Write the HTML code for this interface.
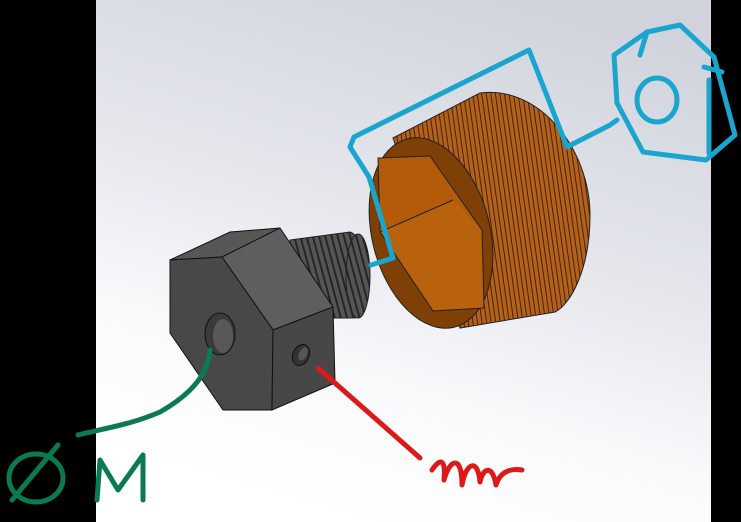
<!DOCTYPE html>
<html><head><style>
html,body{margin:0;padding:0;background:#000;}
svg{display:block;}
</style></head><body>
<svg width="741" height="522" viewBox="0 0 741 522" xmlns="http://www.w3.org/2000/svg">
<defs>
<linearGradient id="bg" x1="0.75" y1="0" x2="0.4" y2="1">
<stop offset="0" stop-color="#d0d3dc"/>
<stop offset="0.45" stop-color="#e5e7ed"/>
<stop offset="0.75" stop-color="#fafafc"/>
<stop offset="1" stop-color="#ffffff"/>
</linearGradient>
<pattern id="knurl" width="4.5" height="10" patternUnits="userSpaceOnUse" patternTransform="rotate(-8)">
<rect width="4.5" height="10" fill="#b3621c"/>
<rect width="1" height="10" fill="#4a2204"/>
</pattern>
<pattern id="thr" width="6" height="8" patternUnits="userSpaceOnUse" patternTransform="rotate(-15)">
<rect width="6" height="8" fill="#555"/>
<rect width="2" height="8" fill="#262626"/>
</pattern>
</defs>
<rect width="741" height="522" fill="#000"/>
<rect x="96" y="0" width="615" height="522" fill="url(#bg)"/>

<!-- knob body -->
<path d="M393,138 L480,93 C540,85 590,150 590,215 C590,270 570,305 555,312 L460,328 Z" fill="url(#knurl)" stroke="#222" stroke-width="1"/>
<!-- rim -->
<ellipse cx="431" cy="233" rx="59" ry="97" transform="rotate(-14 431 233)" fill="#7f4007" stroke="#222" stroke-width="1"/>
<!-- inner hex -->
<polygon points="378,158 430,156 482,230 484,308 433,311 380,232" fill="#b35b08"/>
<polygon points="380,232 453,200 482,230 484,308 433,311" fill="#b8620e"/>
<polygon points="378,158 430,156 482,230 484,308 433,311 380,232" fill="none" stroke="#222" stroke-width="1"/>
<line x1="380" y1="232" x2="453" y2="200" stroke="#222" stroke-width="1"/>

<!-- thread -->
<path d="M290,240 L350,232 C372,240 375,310 355,318 L300,318 Z" fill="url(#thr)" stroke="#222" stroke-width="1"/>
<ellipse cx="358" cy="276" rx="12" ry="42" fill="url(#thr)" stroke="#222" stroke-width="1"/>

<!-- nut -->
<polygon points="170,260 230,232 280,228 222,257" fill="#575757" stroke="#111" stroke-width="1"/>
<polygon points="222,257 280,228 333,307 273,330" fill="#5e5e5e" stroke="#111" stroke-width="1"/>
<polygon points="170,260 222,257 273,330 272,410 223,410 170,333" fill="#484848" stroke="#111" stroke-width="1"/>
<polygon points="273,330 333,307 335,383 272,410" fill="#474747" stroke="#111" stroke-width="1"/>
<ellipse cx="220" cy="334" rx="15" ry="21" fill="#3a3a3a" stroke="#111" stroke-width="1"/>
<ellipse cx="223" cy="336" rx="10" ry="17" fill="#585858"/>
<ellipse cx="301" cy="355" rx="8" ry="11" transform="rotate(25 301 355)" fill="#333" stroke="#111" stroke-width="1"/>
<ellipse cx="303" cy="354" rx="4" ry="7" transform="rotate(25 303 354)" fill="#555"/>

<!-- blue annotation -->
<g fill="none" stroke="#1aa5cf" stroke-width="5" stroke-linecap="round" stroke-linejoin="round">
<path d="M371,265 L393,258 L369,177 L350,147 L354,137 L529,50 L567,147 L610,125 L617,120"/>
<path d="M617,103 L614,55 L647,32 L680,25 L714,57 L735,135 L706,160 L643,152 L617,103"/>
<path d="M647,32 L640,55"/>
<ellipse cx="657" cy="100" rx="20" ry="22"/>
<path d="M704,67 L722,72"/>
<path d="M709,80 L709,153"/>
</g>

<!-- green annotation -->
<g fill="none" stroke="#0b7a50" stroke-width="5" stroke-linecap="round" stroke-linejoin="round">
<path d="M210,350 C208,372 195,392 160,412 C130,425 105,428 78,435"/>
<ellipse cx="36" cy="478" rx="27" ry="24"/>
<path d="M12,500 L58,445"/>
<path d="M97,500 L100,460 L118,490 L143,455 L143,500"/>
</g>

<!-- red annotation -->
<g fill="none" stroke="#dc1a1a" stroke-width="5" stroke-linecap="round" stroke-linejoin="round">
<path d="M318,368 L420,458"/>
<path d="M432,470 C440,458 446,458 444,480 C450,458 462,455 462,485 C466,462 478,458 480,482 C482,470 492,462 496,485 C500,472 510,468 522,470"/>
</g>
</svg>
</body></html>
